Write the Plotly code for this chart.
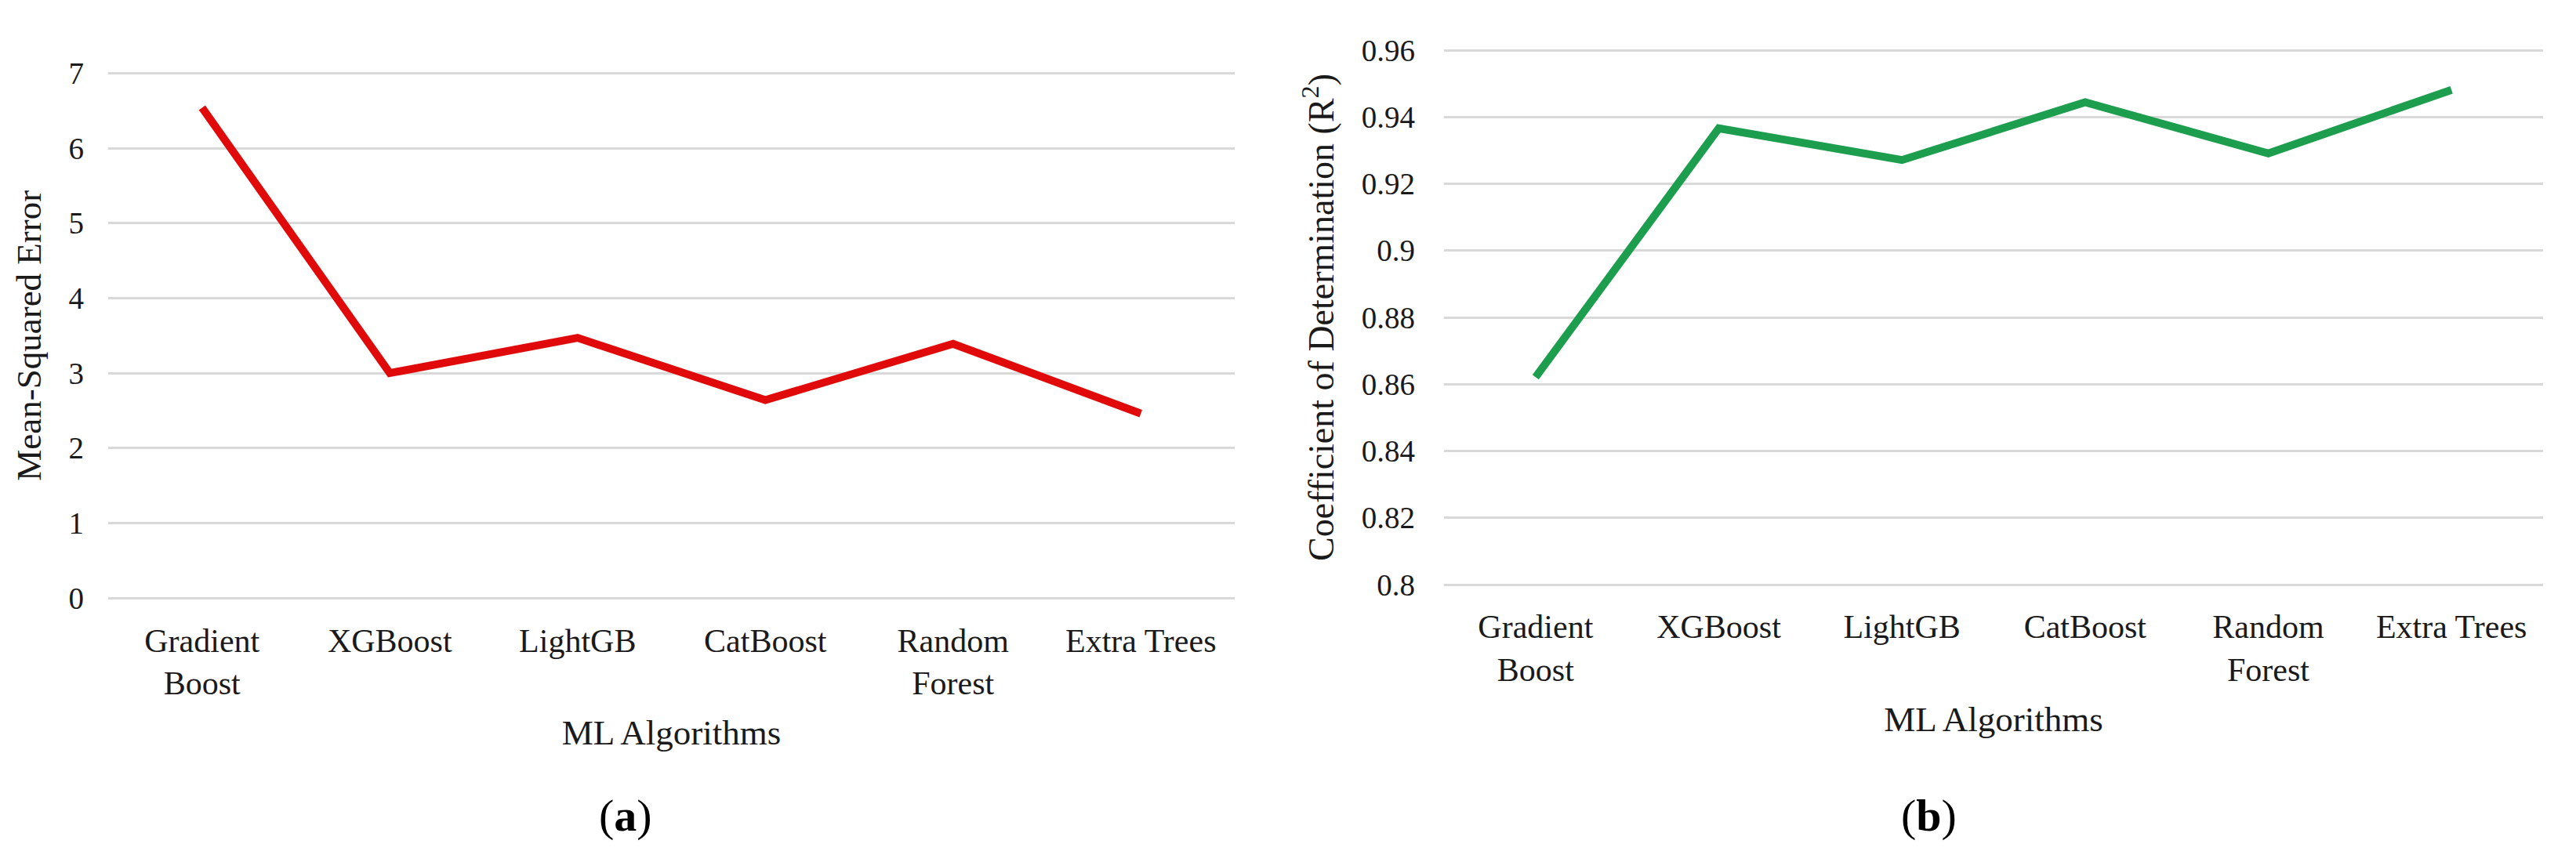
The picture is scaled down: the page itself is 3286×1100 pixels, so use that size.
import plotly.graph_objects as go

categories = ["Gradient<br>Boost", "XGBoost", "LightGB", "CatBoost", "Random<br>Forest", "Extra Trees"]
mse_values = [6.54, 3.00, 3.47, 2.64, 3.39, 2.46]
r2_values = [0.8621, 0.9366, 0.9271, 0.9444, 0.9291, 0.9481]
mse_ticks = [0, 1, 2, 3, 4, 5, 6, 7]
r2_ticks = [0.80, 0.82, 0.84, 0.86, 0.88, 0.90, 0.92, 0.94, 0.96]
r2_ticktext = ["0.8", "0.82", "0.84", "0.86", "0.88", "0.9", "0.92", "0.94", "0.96"]

W, H = 3286, 1100
FONT = "Liberation Serif"
TXT = "#1A1A1A"
GRID = "#D9D9D9"

fig = go.Figure()
fig.add_trace(go.Scatter(x=categories, y=mse_values, mode="lines",
                         line=dict(color="#E10A0A", width=10), xaxis="x", yaxis="y",
                         showlegend=False))
fig.add_trace(go.Scatter(x=categories, y=r2_values, mode="lines",
                         line=dict(color="#1C9E4E", width=10), xaxis="x2", yaxis="y2",
                         showlegend=False))

def px_x(p):
    return p / W

def px_y(p):
    return 1 - p / H

# left y: 0 at 755px, 7 at 85.5px -> pad a little so edge gridlines show
l_ppu = (755 - 85.5) / 7
l_pad = 0.06
# right y: 0.8 at 738px, 0.96 at 56px
r_ppu = (738 - 56) / 0.16
r_pad = 0.0012

common_x = dict(type="category", showgrid=False, showline=False, zeroline=False,
                ticks="", tickfont=dict(family=FONT, size=42, color=TXT),
                ticklabelstandoff=20, fixedrange=True, automargin=False,
                range=[-0.5, 5.5])
common_y = dict(showgrid=True, gridcolor=GRID, gridwidth=3, showline=False, zeroline=False,
                ticks="", tickfont=dict(family=FONT, size=39, color=TXT),
                fixedrange=True, automargin=False)

fig.update_layout(
    width=W, height=H,
    margin=dict(l=0, r=0, t=0, b=0),
    paper_bgcolor="white", plot_bgcolor="white",
    xaxis=dict(common_x, domain=[px_x(130), px_x(1567)], anchor="y",
               title=dict(text="ML Algorithms", font=dict(family=FONT, size=45, color=TXT), standoff=24)),
    yaxis=dict(common_y, anchor="x",
               domain=[px_y(755 + l_pad * l_ppu), px_y(85.5 - l_pad * l_ppu)],
               range=[-l_pad, 7 + l_pad], tickvals=mse_ticks, ticklabelstandoff=30,
               title=dict(text="Mean-Squared Error", font=dict(family=FONT, size=45, color=TXT), standoff=20)),
    xaxis2=dict(common_x, domain=[px_x(1834), px_x(3236)], anchor="y2",
                title=dict(text="ML Algorithms", font=dict(family=FONT, size=45, color=TXT), standoff=24)),
    yaxis2=dict(common_y, anchor="x2",
                domain=[px_y(738 + r_pad * r_ppu), px_y(56 - r_pad * r_ppu)],
                range=[0.8 - r_pad, 0.96 + r_pad], tickvals=r2_ticks, ticktext=r2_ticktext,
                ticklabelstandoff=36,
                title=dict(text="Coefficient of Determination (R<sup>2</sup>)",
                           font=dict(family=FONT, size=46, color=TXT), standoff=20)),
    annotations=[
        dict(text="(<b>a</b>)", x=px_x(790), y=px_y(1032), xref="paper", yref="paper",
             showarrow=False, font=dict(family=FONT, size=58, color="black"),
             xanchor="center", yanchor="middle"),
        dict(text="(<b>b</b>)", x=px_x(2452), y=px_y(1032), xref="paper", yref="paper",
             showarrow=False, font=dict(family=FONT, size=58, color="black"),
             xanchor="center", yanchor="middle"),
    ],
)

fig.write_html("out.html")
